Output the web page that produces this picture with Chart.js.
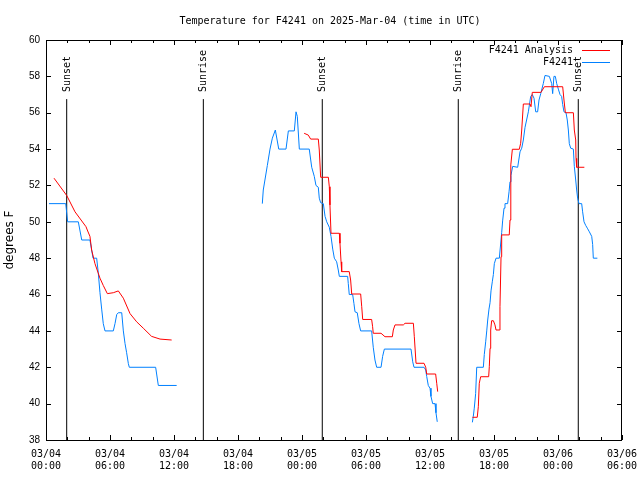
<!DOCTYPE html>
<html>
<head>
<meta charset="utf-8">
<title>Temperature for F4241</title>
<script src="https://cdn.jsdelivr.net/npm/chart.js@4.4.1/dist/chart.umd.min.js"></script>
<style>
  body { margin: 0; background: #fff; }
  #grafico { display: block; }
</style>
</head>
<body>
<canvas id="grafico" width="640" height="480"></canvas>
<script>
// hours since 03/04 00:00 UTC, null temp = gap in the record
var obsHours = [0.28, 1.85, 2.03, 3.03, 3.35, 4.12, 4.41, 4.75, 4.9, 5.06, 5.22, 5.37, 5.53, 6.31, 6.47, 6.63, 6.78, 7.1, 7.25, 7.41, 7.56, 7.72, 7.81, 10.28, 10.53, 12.25,
  16,
  20.28, 20.37, 20.75, 21.0, 21.22, 21.5, 21.82, 22.5, 22.72, 23.28, 23.44, 23.56, 23.75, 24.68, 24.91, 25.15, 25.31, 25.53, 25.62, 25.75, 26.0, 26.16, 26.32, 26.56, 26.72, 26.88, 27.03, 27.25, 27.4, 27.5, 28.28, 28.34, 28.43, 28.75, 28.87, 28.97, 29.18, 29.34, 29.5, 30.53, 30.68, 30.84, 31.0, 31.41, 31.56, 31.72, 34.22, 34.38, 34.5, 35.44, 35.6, 35.69, 35.84, 36.0, 36.09, 36.25, 36.47, 36.56, 36.68,
  38,
  39.97, 40.06, 40.15, 40.28, 40.38, 41.0, 41.09, 41.22, 41.32, 41.41, 41.53, 41.63, 41.72, 41.84, 41.94, 42.03, 42.19, 42.5, 42.72, 42.81, 42.94, 43.03, 43.28, 43.41, 43.5, 43.59, 43.75, 44.22, 44.44, 44.6, 44.75, 44.91, 45.22, 45.44, 45.59, 45.75, 45.91, 46.09, 46.22, 46.38, 46.62, 46.78, 47.19, 47.41, 47.5, 47.62, 47.75, 47.88, 48.03, 48.19, 48.34, 48.44, 48.56, 48.75, 48.87, 48.97, 49.06, 49.19, 49.44, 49.53, 49.66, 49.75, 49.84, 49.97, 50.22, 50.31, 50.44, 50.6, 50.75, 50.94, 51.16, 51.25, 51.31, 51.69];
var obsTemps = [51, 51, 50, 50, 49, 49, 48, 48, 47.2, 46.1, 45.2, 44.4, 44, 44, 44.4, 44.9, 45, 45, 44, 43.3, 42.8, 42.2, 42, 42, 41, 41,
  null,
  51.0, 51.75, 53.1, 54.0, 54.6, 55.05, 54.0, 54.0, 55.0, 55.0, 56.05, 55.8, 54.0, 54.0, 53.0, 52.5, 52.0, 51.9, 51.3, 51.05, 51.0, 50.3, 50.0, 49.7, 49.2, 48.5, 48.0, 47.8, 47.35, 47.0, 47.0, 46.6, 46.0, 46.0, 45.5, 45.05, 45.0, 44.4, 44.0, 44.0, 43.1, 42.4, 42.0, 42.0, 42.6, 43.0, 43.0, 42.3, 42.0, 42.0, 41.85, 41.5, 41.0, 40.85, 40.4, 40.0, 40.0, 39.5, 39.0,
  null,
  38.97, 39.3, 39.75, 40.55, 42.0, 42.0, 42.7, 43.4, 44.0, 44.6, 45.2, 45.55, 46.2, 46.7, 47.1, 47.7, 48.0, 48.0, 49.4, 50.05, 50.75, 51.0, 51.0, 51.65, 52.2, 52.55, 53.05, 53.0, 53.85, 54.05, 54.5, 55.2, 56.05, 56.9, 57.0, 56.8, 56.05, 56.05, 56.7, 57.05, 57.6, 58.05, 58.0, 57.6, 57.05, 58.0, 58.0, 57.6, 57.3, 57.0, 56.9, 56.45, 56.05, 56.0, 55.6, 55.05, 54.3, 54.05, 54.0, 53.05, 52.3, 51.75, 51.3, 51.0, 51.0, 50.55, 50.0, 49.8, 49.65, 49.45, 49.2, 48.75, 48.0, 48.0];

var anaHours = [0.75, 1.94, 2.72, 3.75, 3.87, 4.12, 4.28, 4.59, 5.06, 5.37, 5.75, 6.31, 6.78, 7.25, 7.88, 8.5, 9.12, 9.9, 10.69, 11.78,
  16,
  24.2, 24.59, 24.81, 25.53, 25.62, 25.75, 26.47, 26.56, 26.62, 26.72, 27.5, 27.56, 27.66, 27.72, 28.43, 28.56, 28.66, 29.5, 29.6, 29.69, 30.53, 30.62, 30.68, 31.41, 31.78, 32.47, 32.56, 32.72, 33.5, 33.66, 34.44, 34.53, 34.69, 35.44, 35.6, 35.69, 36.53, 36.63, 36.72,
  38,
  39.97, 40.43, 40.53, 40.62, 40.75, 41.5, 41.56, 41.63, 41.69, 41.78, 41.94, 42.09, 42.19, 42.5, 42.56, 42.66, 42.72, 43.43, 43.5, 43.56, 43.59, 43.72, 44.37, 44.5, 44.6, 44.75, 45.38, 45.47, 45.59, 46.41, 46.72, 48.44, 48.56, 48.69, 49.44, 49.53, 49.66, 49.69, 49.75, 50.47];
var anaTemps = [52.4, 51.45, 50.55, 49.73, 49.55, 49.2, 48.45, 47.7, 46.9, 46.5, 46.05, 46.1, 46.2, 45.8, 44.95, 44.5, 44.15, 43.7, 43.55, 43.5,
  null,
  54.87, 54.77, 54.55, 54.55, 53.95, 52.45, 52.45, 51.93, 50.93, 49.37, 49.37, 48.82, 47.8, 47.26, 47.26, 46.8, 46.03, 46.03, 45.33, 44.63, 44.63, 44.23, 43.87, 43.87, 43.68, 43.68, 44.05, 44.33, 44.33, 44.42, 44.42, 43.68, 42.22, 42.22, 42.0, 41.63, 41.63, 41.12, 40.66,
  null,
  39.25, 39.25, 39.83, 41.12, 41.48, 41.48, 42.03, 43.04, 44.05, 44.56, 44.56, 44.33, 44.05, 44.05, 45.33, 48.08, 49.28, 49.28, 50.1, 51.57, 53.13, 53.99, 53.99, 54.32, 55.05, 56.48, 56.48, 56.33, 57.12, 57.12, 57.43, 57.43, 56.7, 56.0, 56.0, 55.05, 54.5, 53.49, 53.0, 53.0];

var sunHours = [1.94, 14.75, 25.9, 38.65, 49.9];
var sunNames = ['Sunset', 'Sunrise', 'Sunset', 'Sunrise', 'Sunset'];
var sunTop = 56.75;

var tickDays = ['03/04', '03/05', '03/06'];
var seriesNames = ['F4241 Analysis', 'F4241'];
var seriesColors = ['#ff0000', '#0080ff'];
var titulo = 'Temperature for F4241 on 2025-Mar-04 (time in UTC)';

var MONO = '"DejaVu Sans Mono", monospace';

function puntos(hours, temps) {
  var out = [];
  for (var i = 0; i < hours.length; i++) {
    out.push({x: hours[i], y: temps[i]});
  }
  return out;
}

function lineasSol() {
  var out = [];
  for (var i = 0; i < sunHours.length; i++) {
    out.push({x: sunHours[i], y: 38});
    out.push({x: sunHours[i], y: sunTop});
    out.push({x: sunHours[i], y: null});
  }
  return out;
}

function etiquetaX(v) {
  var d = tickDays[Math.floor(v / 24)] || '';
  var h = v % 24;
  return [d, (h < 10 ? '0' : '') + h + ':00'];
}

// frame, inward tics, sunrise/sunset labels, key and title, gnuplot style
var decorado = {
  id: 'decorado',
  afterDraw: function(chart) {
    var ctx = chart.ctx, a = chart.chartArea;
    var xs = chart.scales.x, ys = chart.scales.y;
    ctx.save();
    ctx.strokeStyle = '#000';
    ctx.lineWidth = 1;
    ctx.strokeRect(Math.round(a.left) + 0.5, Math.round(a.top) + 0.5,
      Math.round(a.right - a.left) - 1, Math.round(a.bottom - a.top));

    ctx.beginPath();
    for (var h = 0; h <= 54; h += 2) {
      var px = Math.round(xs.getPixelForValue(h)) + 0.5;
      var len = (h % 6 == 0) ? 5 : 3;
      ctx.moveTo(px, a.bottom); ctx.lineTo(px, a.bottom - len);
      ctx.moveTo(px, a.top); ctx.lineTo(px, a.top + len);
    }
    for (var t = 38; t <= 60; t += 2) {
      var py = Math.round(ys.getPixelForValue(t)) + 0.5;
      ctx.moveTo(a.left, py); ctx.lineTo(a.left + 5, py);
      ctx.moveTo(a.right, py); ctx.lineTo(a.right - 5, py);
    }
    ctx.stroke();

    ctx.fillStyle = '#000';
    ctx.font = '10px ' + MONO;
    ctx.textBaseline = 'middle';
    ctx.textAlign = 'left';
    for (var i = 0; i < sunHours.length; i++) {
      ctx.save();
      ctx.translate(Math.round(xs.getPixelForValue(sunHours[i])), ys.getPixelForValue(sunTop) - 7);
      ctx.rotate(-Math.PI / 2);
      ctx.fillText(sunNames[i], 0, 0);
      ctx.restore();
    }

    ctx.textAlign = 'right';
    for (var k = 0; k < seriesNames.length; k++) {
      var ly = a.top + 10 + k * 12;
      ctx.fillStyle = '#000';
      ctx.fillText(seriesNames[k], a.right - 49, ly);
      ctx.strokeStyle = seriesColors[k];
      ctx.beginPath();
      ctx.moveTo(a.right - 40, Math.round(ly) + 0.5);
      ctx.lineTo(a.right - 12, Math.round(ly) + 0.5);
      ctx.stroke();
    }

    ctx.textAlign = 'center';
    ctx.fillText(titulo, (a.left + a.right) / 2 - 4, 21);
    ctx.restore();
  }
};

var grafico = new Chart(document.getElementById('grafico').getContext('2d'), {
  type: 'line',
  data: {
    datasets: [
      {label: seriesNames[0], data: puntos(anaHours, anaTemps), borderColor: seriesColors[0]},
      {label: seriesNames[1], data: puntos(obsHours, obsTemps), borderColor: seriesColors[1]},
      {label: 'sun', data: lineasSol(), borderColor: '#000'}
    ]
  },
  options: {
    responsive: false,
    animation: false,
    devicePixelRatio: 1,
    events: [],
    layout: {padding: {top: 40, right: 18, left: 0, bottom: 0}},
    elements: {
      line: {borderWidth: 1, tension: 0, fill: false},
      point: {radius: 0}
    },
    spanGaps: false,
    plugins: {
      legend: {display: false},
      title: {display: false},
      tooltip: {enabled: false}
    },
    scales: {
      x: {
        type: 'linear',
        min: 0,
        max: 54,
        afterFit: function(s) { s.height = 40; s.paddingLeft = 0; s.paddingRight = 0; },
        grid: {display: false, drawTicks: false},
        border: {display: false},
        ticks: {
          stepSize: 6,
          autoSkip: false,
          maxRotation: 0,
          padding: 8,
          color: '#000',
          font: {family: MONO, size: 10, lineHeight: 1.25},
          callback: etiquetaX
        }
      },
      y: {
        min: 38,
        max: 60,
        afterFit: function(s) { s.width = 46; s.paddingTop = 0; s.paddingBottom = 0; },
        grid: {display: false, drawTicks: false},
        border: {display: false},
        ticks: {
          stepSize: 2,
          padding: 6,
          color: '#000',
          font: {family: '"Liberation Sans", Arial, sans-serif', size: 10}
        },
        title: {
          display: true,
          text: 'degrees F',
          color: '#000',
          padding: {top: 3, bottom: 0},
          font: {family: '"DejaVu Sans", sans-serif', size: 12}
        }
      }
    }
  },
  plugins: [decorado]
});
</script>
</body>
</html>
